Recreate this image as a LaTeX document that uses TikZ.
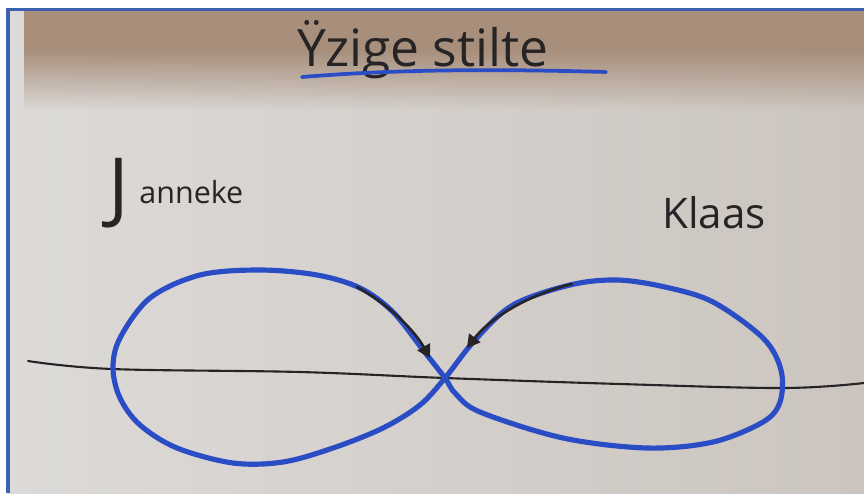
\documentclass[tikz,border=0pt]{standalone}
\usepackage{fontspec}
\setmainfont{Open Sans}
\usetikzlibrary{arrows.meta}
\definecolor{marker}{RGB}{42,76,196}
\definecolor{ink}{RGB}{38,36,36}
\definecolor{frameblue}{RGB}{62,96,176}
\definecolor{boardL}{RGB}{220,218,216}
\definecolor{boardR}{RGB}{204,197,191}
\definecolor{beige}{RGB}{166,140,120}
\begin{document}
\begin{tikzpicture}[x=0.03cm,y=-0.03cm,
  bluepen/.style={draw=marker,line width=4.4pt,line cap=round,line join=round},
  inkpen/.style={draw=ink,line width=1.8pt,line cap=round},
  arrowpen/.style={draw=ink,line width=2.2pt,line cap=round,-{Triangle[length=11pt,width=12pt]}},
  hand/.style={text=ink,inner sep=0pt}]
\useasboundingbox (0,0) rectangle (864,493);
\fill[white] (0,0) rectangle (864,493);
% whiteboard
\shade[left color=boardL,right color=boardR] (8,10) rectangle (864,493);
% beige band at the top, fading downwards
\foreach \yy in {10,12,...,108}{
  \pgfmathsetmacro{\op}{min(0.95,max(0,0.95*(110-\yy)/60))}
  \fill[beige,opacity=\op] (24,\yy) rectangle (864,\yy+2.2);
}
% photo frame
\fill[white] (0,0) rectangle (864,8.5);
\draw[frameblue,line width=2.6pt] (8,493) -- (8,9.5) -- (864,9.5);
% title
\node[hand,anchor=base,font=\fontsize{44pt}{44pt}\selectfont] (title) at (423,66) {Ÿzige stilte};
\draw[bluepen,line width=3.2pt] (302,77) .. controls (400,69) and (500,69) .. (606,72);
% names
\node[hand,anchor=base west,font=\fontsize{26pt}{26pt}\selectfont] (janneke) at (108,203)
  {\raisebox{-9pt}{\fontsize{66pt}{66pt}\selectfont J}\hspace{9pt}anneke};
\node[hand,anchor=base west,font=\fontsize{36pt}{36pt}\selectfont] (klaas) at (662,228) {Klaas};
% horizontal line
\draw[inkpen] plot[smooth,tension=0.6] coordinates {(28,361) (112,369) (300,372) (445,378) (620,384) (783,388) (864,383)};
% figure eight
\draw[bluepen] plot[smooth cycle,tension=0.55] coordinates {
  (445,378) (423,350) (393,312) (360,288) (317,275) (260,270) (200,275) (150,298)
  (120,338) (113,368) (120,398) (140,425) (177,448) (233,463) (283,462) (333,448)
  (383,428) (420,405)
  (445,378) (475,340) (513,305) (570,285) (617,280) (665,287) (713,302) (763,338)
  (781,370) (780,402) (763,422) (713,442) (647,448) (563,438) (480,412) (455,393)};
\coordinate (la) at (357,287);
\coordinate (lb) at (430,358);
\coordinate (ra) at (572,284);
\coordinate (rb) at (467,348);
\draw[arrowpen] (la) .. controls (385,302) and (413,328) .. (lb);
\draw[arrowpen] (ra) .. controls (530,294) and (490,318) .. (rb);
\end{tikzpicture}
\end{document}
